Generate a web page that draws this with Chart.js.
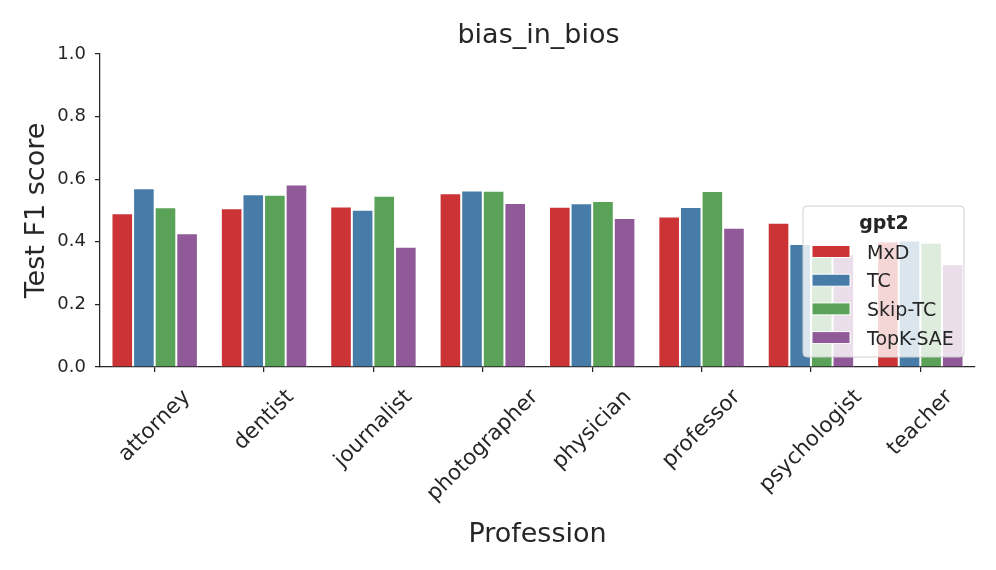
<!DOCTYPE html>
<html>
<head>
<meta charset="utf-8">
<script src="https://cdn.jsdelivr.net/npm/chart.js@4.4.1/dist/chart.umd.min.js"></script>
<style>
  html, body { margin: 0; padding: 0; background: #fff; }
</style>
</head>
<body>
<canvas id="chart" width="996" height="570"></canvas>
<script>
const professions = ['attorney', 'dentist', 'journalist', 'photographer', 'physician', 'professor', 'psychologist', 'teacher'];
const seriesNames = ['MxD', 'TC', 'Skip-TC', 'TopK-SAE'];
const mxdScores = [0.491, 0.507, 0.513, 0.555, 0.512, 0.481, 0.461, 0.401];
const tcScores = [0.571, 0.552, 0.502, 0.564, 0.523, 0.511, 0.393, 0.404];
const skipTcScores = [0.510, 0.550, 0.547, 0.563, 0.530, 0.562, 0.370, 0.397];
const topkScores = [0.427, 0.583, 0.384, 0.524, 0.476, 0.445, 0.360, 0.328];
const yTickValues = [0, 0.2, 0.4, 0.6, 0.8, 1.0];

const colors = ['#cb3335', '#477ca8', '#59a257', '#905998'];
const ink = '#262626';
const FONT = "'DejaVu Sans', sans-serif";

const decor = {
    id: 'decor',
    afterDraw(chart) {
        const { ctx, chartArea: area, scales } = chart;
        const midX = (area.left + area.right) / 2;
        ctx.save();
        ctx.fillStyle = ink;

        // title
        ctx.font = `27px ${FONT}`;
        ctx.textAlign = 'center';
        ctx.textBaseline = 'alphabetic';
        ctx.fillText('bias_in_bios', midX + 1, 43);

        // axis titles
        ctx.fillText('Profession', midX, 542);
        ctx.save();
        ctx.translate(44, (area.top + area.bottom) / 2);
        ctx.rotate(-Math.PI / 2);
        ctx.fillText('Test F1 score', 0, 0);
        ctx.restore();

        // rotated category labels, centred under each tick
        const fs = 21.5;
        ctx.font = `${fs}px ${FONT}`;
        ctx.textBaseline = 'middle';
        professions.forEach((name, i) => {
            const x = scales.x.getPixelForTick(i);
            const w = ctx.measureText(name).width;
            const h = fs * 1.17;
            const cy = area.bottom + 18 + (w + h) * Math.SQRT1_2 / 2;
            ctx.save();
            ctx.translate(x, cy);
            ctx.rotate(-Math.PI / 4);
            ctx.fillText(name, 0, 0);
            ctx.restore();
        });

        // legend
        const lx = area.right - 172, ly = area.top + 152, lw = 161, lh = 151;
        ctx.beginPath();
        ctx.roundRect(lx, ly, lw, lh, 4);
        ctx.fillStyle = 'rgba(255,255,255,0.8)';
        ctx.fill();
        ctx.strokeStyle = '#d0d0d0';
        ctx.lineWidth = 1;
        ctx.stroke();

        ctx.fillStyle = ink;
        ctx.font = `bold 19px ${FONT}`;
        ctx.textAlign = 'center';
        ctx.textBaseline = 'alphabetic';
        ctx.fillText('gpt2', lx + 81, ly + 23);

        ctx.font = `19px ${FONT}`;
        ctx.textAlign = 'left';
        chart.data.datasets.forEach((ds, i) => {
            const cy = ly + 45.5 + i * 28.7;
            ctx.fillStyle = ds.backgroundColor;
            ctx.fillRect(lx + 9, cy - 6, 38, 12);
            ctx.strokeStyle = '#ffffff';
            ctx.lineWidth = 1;
            ctx.strokeRect(lx + 9, cy - 6, 38, 12);
            ctx.fillStyle = ink;
            ctx.fillText(ds.label, lx + 64, cy + 7);
        });
        ctx.restore();
    }
};

const seriesData = [mxdScores, tcScores, skipTcScores, topkScores];

new Chart(document.getElementById('chart'), {
    type: 'bar',
    data: {
        labels: professions,
        datasets: seriesNames.map((name, i) => ({
            label: name,
            data: seriesData[i],
            backgroundColor: colors[i],
            borderColor: '#ffffff',
            borderWidth: 1,
            categoryPercentage: 0.79,
            barPercentage: 1.0
        }))
    },
    options: {
        responsive: false,
        animation: false,
        layout: { padding: { top: 54, right: 21, left: 0, bottom: 0 } },
        plugins: {
            legend: { display: false },
            title: { display: false },
            tooltip: { enabled: false }
        },
        scales: {
            x: {
                grid: { display: true, drawOnChartArea: false, drawTicks: true, tickLength: 5, offset: false, color: ink, lineWidth: 1.25 },
                border: { display: true, color: ink, width: 1.25 },
                ticks: { display: false },
                afterFit: (s) => { s.height = 570 - 367; }
            },
            y: {
                min: 0,
                max: 1,
                afterBuildTicks: (s) => { s.ticks = yTickValues.map(v => ({ value: v })); },
                grid: { display: true, drawOnChartArea: false, drawTicks: true, tickLength: 5, color: ink, lineWidth: 1.25 },
                border: { display: true, color: ink, width: 1.25 },
                ticks: {
                    color: ink,
                    font: { family: FONT, size: 18 },
                    padding: 9,
                    callback: (v) => Number(v).toFixed(1)
                },
                afterFit: (s) => { s.width = 100; }
            }
        }
    },
    plugins: [decor]
});
</script>
</body>
</html>
